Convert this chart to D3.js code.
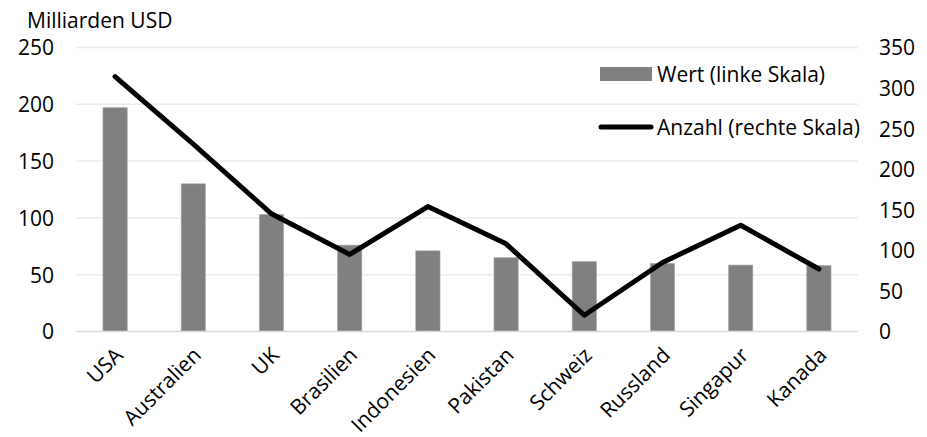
<!DOCTYPE html>
<html><head><meta charset="utf-8">
<script src="https://cdn.jsdelivr.net/npm/d3@7"></script>
<style>body{margin:0;background:#fff}svg{display:block}text{font-family:"Open Sans",sans-serif;fill:#000}</style>
</head><body>
<script>
const categories = ["USA","Australien","UK","Brasilien","Indonesien","Pakistan","Schweiz","Russland","Singapur","Kanada"];
const wert = [197,130,103,76,71,65,61.5,60,58.5,58];
const anzahl = [314,231,145,95,154,108,20,85,131,77];
const leftTicks = [0,50,100,150,200,250];
const rightTicks = [0,50,100,150,200,250,300,350];
const unitLabel = "Milliarden USD";
const legendLabels = ["Wert (linke Skala)","Anzahl (rechte Skala)"];

const W=927,H=437, m={l:76,r:69,t:47.5,b:105.5};
const fs = 21;
const svg=d3.select("body").append("svg").attr("width",W).attr("height",H);
const x=d3.scaleBand().domain(categories).range([m.l,W-m.r]).paddingInner(0.69).paddingOuter(0.345);
const yL=d3.scaleLinear().domain([0,250]).range([H-m.b,m.t]);
const yR=d3.scaleLinear().domain([0,350]).range([H-m.b,m.t]);

// gridlines
svg.append("g").selectAll("line").data(leftTicks.filter(d=>d>0)).join("line")
 .attr("x1",m.l).attr("x2",W-m.r).attr("y1",d=>yL(d)).attr("y2",d=>yL(d))
 .attr("stroke","#ebebeb").attr("stroke-width",1.5);

// bars
svg.append("g").selectAll("rect").data(wert).join("rect")
 .attr("x",(d,i)=>x(categories[i])).attr("width",x.bandwidth())
 .attr("y",d=>yL(d)).attr("height",d=>yL(0)-yL(d))
 .attr("fill","#808080").attr("stroke","#a6a6a6").attr("stroke-width",0.6);

// baseline
svg.append("line").attr("x1",m.l).attr("x2",W-m.r).attr("y1",yL(0)).attr("y2",yL(0))
 .attr("stroke","#d9d9d9").attr("stroke-width",1.5);

// line
const line=d3.line().x((d,i)=>x(categories[i])+x.bandwidth()/2).y(d=>yR(d));
svg.append("path").datum(anzahl).attr("d",line).attr("fill","none")
 .attr("stroke","#000").attr("stroke-width",5).attr("stroke-linecap","round").attr("stroke-linejoin","round");

// left axis
const aL=d3.axisLeft(yL).tickValues(leftTicks).tickSize(0).tickPadding(0);
const gL=svg.append("g").attr("transform",`translate(54,0)`).call(aL);
gL.select(".domain").remove();
gL.selectAll("text").attr("font-size",fs).attr("font-family","Open Sans").attr("fill","#000").attr("dy","0.35em");

// right axis
const aR=d3.axisRight(yR).tickValues(rightTicks).tickSize(0).tickPadding(0);
const gR=svg.append("g").attr("transform",`translate(879,0)`).call(aR);
gR.select(".domain").remove();
gR.selectAll("text").attr("font-size",fs).attr("font-family","Open Sans").attr("fill","#000").attr("dy","0.35em");

// x labels
const aX=d3.axisBottom(x).tickSize(0).tickPadding(0);
const gX=svg.append("g").attr("transform",`translate(0,${yL(0)})`).call(aX);
gX.select(".domain").remove();
gX.selectAll("text").attr("font-size",fs).attr("font-family","Open Sans").attr("fill","#000")
 .attr("text-anchor","end").attr("dy",null).attr("y",0)
 .attr("transform","translate(9,25) rotate(-45)");

// unit label
svg.append("text").attr("x",27).attr("y",28).attr("font-size",fs).text(unitLabel);

// legend
const lg=svg.append("g");
lg.append("rect").attr("x",600).attr("y",67).attr("width",52).attr("height",14).attr("fill","#808080");
lg.append("text").attr("x",657).attr("y",82).attr("font-size",fs).text(legendLabels[0]);
lg.append("line").attr("x1",601).attr("x2",651).attr("y1",127).attr("y2",127).attr("stroke","#000").attr("stroke-width",5).attr("stroke-linecap","round");
lg.append("text").attr("x",657).attr("y",135).attr("font-size",fs).text(legendLabels[1]);
</script>
</body></html>
